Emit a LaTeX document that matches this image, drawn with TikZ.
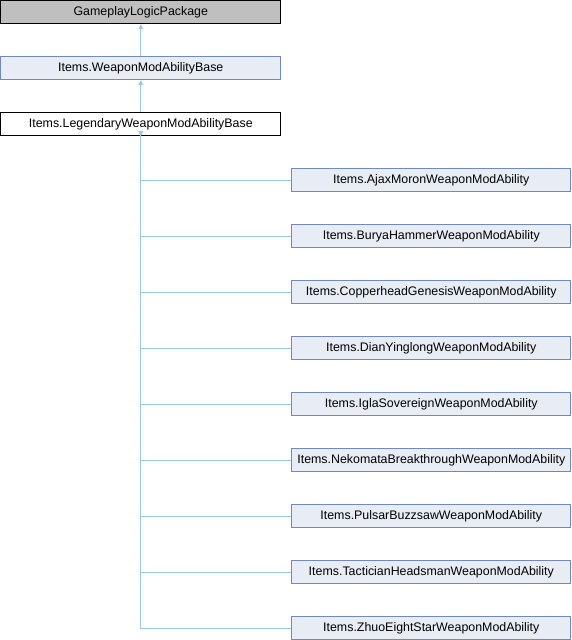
\documentclass[tikz,border=0pt]{standalone}
\usepackage{fontspec}
\setmainfont{Liberation Sans}
\usetikzlibrary{arrows.meta}
\definecolor{edgec}{HTML}{9ACCEA}
\definecolor{boxfill}{HTML}{E8ECF5}
\definecolor{boxdraw}{HTML}{7088C4}
\definecolor{greyfill}{HTML}{BFBFBF}
\tikzset{
  cls/.style={draw=boxdraw, fill=boxfill, line width=0.8pt, minimum height=23pt, inner sep=0pt, font=\fontsize{12.4}{14}\selectfont, anchor=north west},
  wide/.style={minimum width=280pt},
  cw/.style={minimum width=279pt},
  edge/.style={draw=edgec, line width=0.8pt},
  inh/.style={edge, -{Triangle[width=5pt,length=5pt]}},
}
\begin{document}
\begin{tikzpicture}[x=1pt,y=-1pt]
\useasboundingbox (0,0) rectangle (572,640);
\node[cls, wide, fill=greyfill, draw=black] (pkg) at (0.4,0.4) {GameplayLogicPackage};
\node[cls, wide] (wmab) at (0.4,56.4) {Items.WeaponModAbilityBase};
\node[cls, wide, fill=white, draw=black] (lwmab) at (0.4,112.4) {Items.LegendaryWeaponModAbilityBase};
\draw[inh] (wmab.north) -- (pkg.south);
\draw[inh] (lwmab.north) -- (wmab.south);
\foreach \n/\t [count=\i from 0] in {c1/Items.AjaxMoronWeaponModAbility,
  c2/Items.BuryaHammerWeaponModAbility,
  c3/Items.CopperheadGenesisWeaponModAbility,
  c4/Items.DianYinglongWeaponModAbility,
  c5/Items.IglaSovereignWeaponModAbility,
  c6/Items.NekomataBreakthroughWeaponModAbility,
  c7/Items.PulsarBuzzsawWeaponModAbility,
  c8/Items.TacticianHeadsmanWeaponModAbility,
  c9/Items.ZhuoEightStarWeaponModAbility}{
  \node[cls, cw] (\n) at (291.4,168.4+56*\i) {\t};
}
\coordinate (bend) at (lwmab.south |- c9.west);
\draw[edge] (c9.west) -- (bend) -- ([yshift=4pt]lwmab.south);
\draw[inh] ([yshift=5pt]lwmab.south) -- (lwmab.south);
\foreach \n in {c1,c2,c3,c4,c5,c6,c7,c8}{
  \draw[edge] (\n.west) -- (lwmab.south |- \n.west);
}
\end{tikzpicture}
\end{document}
